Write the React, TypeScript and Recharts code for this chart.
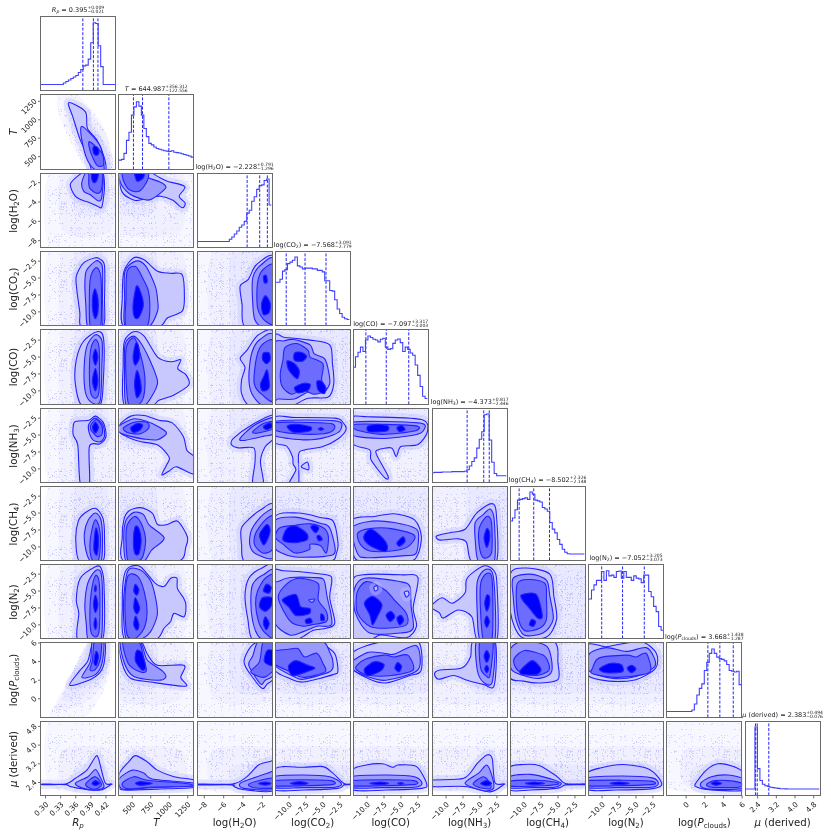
// Corner plot of a retrieval posterior: ten 1D histograms and 45 2D contour panels.
// Each 2D panel is a small ScatterChart whose closed contours go through the library's scales.

import { ComposedChart, Line, ReferenceLine, Scatter, ScatterChart, XAxis, YAxis } from "recharts";

const PANEL_X = [40.7, 119, 197.3, 275.4, 353.4, 432.3, 510.3, 588.7, 667, 745.3];
const PANEL_Y = [16.3, 95, 173.3, 251.4, 330, 408.3, 486.3, 564.3, 643, 721.3];
const PANEL_W = 74.6;
const PANEL_H = 74.4;
const PAD = 7; // room around a plot so that edge tick labels are not cut

const DOMAINS = [[0.291, 0.439], [327, 1336], [-8.7, -1], [-12, -1], [-12, -1], [-12, -1], [-12, -1], [-12, -1], [-2, 6], [1.86, 5.05]];
const Y_DOMAINS = [[0.291, 0.439], [327, 1336], [-8.7, -1], [-12, -1], [-12, -1], [-12, -1], [-12, -1], [-12, -1], [-2, 6], [1.85, 5.03]];

const RP_TICKS = [0.3, 0.33, 0.36, 0.39, 0.42];
const T_TICKS = [500, 750, 1000, 1250];
const H_TICKS = [-8, -6, -4, -2];
const LOG_TICKS = [-10, -7.5, -5, -2.5];
const P_TICKS = [0, 2, 4, 6];
const MU_TICKS = [2.4, 3.2, 4.0, 4.8];
const TICKS = [RP_TICKS, T_TICKS, H_TICKS, LOG_TICKS, LOG_TICKS, LOG_TICKS, LOG_TICKS, LOG_TICKS, P_TICKS, MU_TICKS];
const DECIMALS = [2, 0, 0, 1, 1, 1, 1, 1, 0, 1];

const MEDIANS = [0.395, 644.987, -2.228, -7.568, -7.097, -4.373, -8.502, -7.052, 3.668, 2.383];
const PLUS = [0.009, 356.312, 0.791, 3.091, 3.317, 0.817, 2.326, 3.205, 1.438, 0.494];
const MINUS = [0.021, 122.556, 1.296, 2.779, 3.003, 2.446, 2.148, 3.073, 1.287, 0.076];

const Sub = ({ children }: { children: any }) => (
  <span style={{ fontSize: "0.7em", position: "relative", top: "0.22em" }}>{children}</span>
);
const NAMES = [
  <><i>R</i><Sub><i>p</i></Sub></>,
  <i>T</i>,
  <>log(H<Sub>2</Sub>O)</>,
  <>log(CO<Sub>2</Sub>)</>,
  <>log(CO)</>,
  <>log(NH<Sub>3</Sub>)</>,
  <>log(CH<Sub>4</Sub>)</>,
  <>log(N<Sub>2</Sub>)</>,
  <>log(<i>P</i><Sub>clouds</Sub>)</>,
  <><i>μ</i> (derived)</>,
];

const HIST_RP = [.08, .08, .08, .08, .08, .08, .08, .08, .08, .1, .12, .14, .16, .18, .2, .24, .28, .33, .34, .42, .64, .91, .9, .6, .32, .08, .08, .08, .08, .08];
const HIST_T = [.125, .135, .215, .39, .5, .73, .84, .91, .85, .73, .55, .44, .35, .33, .3, .28, .27, .26, .25, .245, .24, .25, .23, .225, .22, .21, .2, .19, .18, .165];
const HIST_H = [.08, .08, .08, .08, .08, .08, .08, .08, .08, .08, .08, .08, .08, .11, .14, .18, .22, .27, .3, .35, .46, .5, .62, .68, .78, .83, .84, .9, .92, .57];
const HIST_CO2 = [.58, .58, .62, .73, .75, .83, .85, .875, .92, .8, .785, .76, .77, .77, .77, .76, .76, .74, .74, .72, .6, .6, .47, .46, .345, .22, .16, .11, .09, .08];
const HIST_CO = [.5, .64, .7, .77, .71, .865, .92, .9, .875, .865, .84, .875, .89, .77, .74, .75, .82, .865, .88, .83, .71, .77, .74, .69, .66, .53, .39, .24, .11, .08];
const HIST_NH3 = [.13, .135, .135, .135, .14, .14, .14, .14, .145, .145, .145, .145, .145, .15, .17, .22, .28, .33, .46, .58, .68, .91, .92, .57, .27, .12, .09, .09, .09, .09];
const HIST_CH4 = [.53, .57, .68, .81, .82, .83, .84, .82, .92, .89, .81, .8, .785, .71, .69, .66, .51, .42, .37, .28, .215, .15, .11, .09, .085, .085, .085, .085, .085, .085];
const HIST_N2 = [.53, .65, .72, .78, .78, .9, .78, .91, .84, .85, .82, .9, .905, .81, .9, .82, .82, .78, .84, .81, .8, .75, .85, .85, .63, .56, .43, .36, .16, .11];
const HIST_P = [.08, .08, .08, .08, .08, .08, .08, .08, .08, .08, .1, .18, .3, .39, .45, .63, .74, .86, .92, .86, .81, .79, .78, .76, .71, .63, .62, .61, .62, .44];
const HIST_MU = [.085, .085, .085, .085, .92, .36, .2, .15, .13, .12, .11, .105, .1, .095, .09, .09, .088, .086, .085, .085, .085, .085, .085, .085, .085, .085, .085, .085, .085, .085];
const HISTS = [HIST_RP, HIST_T, HIST_H, HIST_CO2, HIST_CO, HIST_NH3, HIST_CH4, HIST_N2, HIST_P, HIST_MU];

// scatter cloud extents per parameter, three tiers that add up towards the core
const SPARSE = [[.31, .432], [300, 1360], [-9, -.7], [-12.5, -.5], [-12.5, -.5], [-12.5, -.5], [-12.5, -.5], [-12.5, -.5], [-2.5, 6.5], [2.25, 5.1]];
const MID = [[.335, .428], [300, 1150], [-7, -.7], [-12.5, -.5], [-12.5, -.5], [-12.5, -.5], [-12.5, -.5], [-12.5, -.5], [0, 6.5], [2.25, 3.8]];
const DENSE = [[.36, .42], [300, 800], [-5, -.7], [-12.5, -.5], [-12.5, -.5], [-6.5, -.5], [-12.5, -.5], [-12.5, -.5], [1, 6.5], [2.25, 3.1]];

// contour rows: [level, x, y, x, y, ...]; level 0-3 are filled bands, -1/-2/-3 are scatter haze
const T_RP = [
  [-1, .325, 1360, .36, 1360, .415, 900, .435, 300, .385, 300, .33, 1000],
  [-2, .34, 1300, .37, 1250, .42, 800, .432, 300, .385, 300, .34, 1000],
  [-3, .355, 1150, .385, 1050, .425, 600, .428, 300, .385, 300],
  [0, .346, 1232, .379, 1110, .383, 884, .402, 725, .416, 500, .419, 320, .392, 320, .385, 500, .369, 725, .354, 1042],
  [1, .371, 906, .385, 838, .409, 635, .416, 320, .399, 320, .383, 454, .372, 725],
  [2, .387, 703, .412, 545, .415, 385, .402, 385, .389, 567],
  [3, .396, 640, .404, 620, .406, 550, .402, 520, .397, 530, .394, 590],
];
const H_RP = [
  [0, .349, -2.2, .365, -1.27, .383, -.8, .412, -.8, .417, -2.4, .412, -4.45, .405, -4.5, .389, -4.1, .372, -3.8, .359, -3.4],
  [1, .372, -2, .383, -.8, .412, -.8, .412, -3.4, .405, -3.9, .389, -3.25, .376, -2.9],
  [2, .386, -1.35, .388, -.8, .412, -.8, .411, -2.7, .402, -3.1, .387, -2.5],
  [3, .392, -.8, .405, -.8, .402, -1.75, .396, -2, .392, -1.7],
];
const H_T = [
  [0, 332, -.8, 332, -2.2, 385, -3.2, 544, -3.85, 700, -3.6, 882, -3.4, 1043, -3.8, 1175, -4.6, 1215, -4.1, 1134, -3.4, 1210, -2.4, 973, -1.85, 840, -1.35, 700, -.8],
  [1, 340, -.8, 340, -2, 453, -3.1, 610, -3.65, 750, -3.75, 952, -2.55, 882, -1.95, 720, -1.5, 630, -.8],
  [2, 385, -.8, 377, -1.7, 453, -2.7, 590, -2.9, 700, -1.85, 720, -1, 680, -.8],
  [3, 530, -.9, 565, -1.85, 650, -1.5, 660, -.9, 600, -.8],
];
const CO2_RP = [
  [0, .399, -2, .375, -2.8, .361, -4.7, .362, -6.7, .368, -10.1, .371, -12.2, .414, -12.2, .417, -8.2, .417, -3.2, .408, -2.2],
  [1, .399, -2.5, .381, -3.9, .378, -6, .38, -9, .384, -12.2, .412, -12.2, .413, -8, .413, -3.5, .407, -2.6],
  [2, .399, -3.5, .389, -5, .387, -8, .389, -12.2, .409, -12.2, .411, -8, .41, -5, .406, -3.8],
  [3, .398, -6.6, .393, -8, .394, -10, .399, -11, .404, -10, .404, -8],
];
const CO2_T = [
  [0, 387, -12.2, 365, -8, 387, -4, 519, -2, 660, -2.3, 842, -4, 1023, -4.3, 1175, -4.5, 1205, -7.7, 1175, -9.9, 973, -10.9, 860, -12.2],
  [1, 408, -12.2, 397, -8, 400, -4, 545, -2.5, 680, -3.2, 811, -6.2, 842, -8.2, 842, -9.9, 720, -12.2],
  [2, 420, -12.2, 415, -8, 430, -4, 545, -3.3, 640, -5, 720, -7, 735, -10, 690, -12.2],
  [3, 555, -6.2, 510, -9, 530, -10.8, 590, -10.8, 650, -9, 610, -7],
];
const CO2_H = [
  [0, -.7, -2.1, -2.6, -3, -3.45, -5.2, -4.3, -6.2, -4.1, -8.9, -3.8, -12.2, -.7, -12.2],
  [1, -.7, -2.5, -2.1, -3, -3, -5, -3, -8.7, -2.8, -11.1, -2.1, -12.2, -.7, -12.2],
  [2, -.7, -3.4, -1.9, -3.7, -2.5, -5.7, -2.5, -9.4, -1.75, -11.3, -.7, -11.3],
  [3, -2.1, -8.9, -1.7, -7.6, -1.2, -8.7, -1.3, -10.1, -1.9, -10.4],
  [3, -1.9, -4.8, -1.6, -4.6, -1.5, -5.6, -1.8, -5.7],
];
const CO_RP = [
  [0, .402, -1.25, .375, -2.7, .361, -5.4, .359, -8.9, .372, -12.2, .408, -12.2, .415, -8, .415, -2.2],
  [1, .399, -1.7, .383, -3.2, .377, -5.9, .378, -9.8, .389, -11.6, .408, -11.6, .412, -6, .412, -2.6],
  [2, .399, -2.4, .39, -3.7, .387, -7.4, .39, -10.4, .399, -11.1, .406, -10.2, .407, -6.5, .406, -3.4],
  [3, .399, -3.8, .394, -5, .399, -6.2, .404, -5],
  [3, .399, -6.7, .393, -8.5, .399, -10, .404, -8.5],
];
const CO_T = [
  [0, 395, -12.2, 377, -6, 395, -2.6, 519, -1.25, 660, -1.9, 842, -5, 1023, -5.7, 1155, -5.4, 1114, -6.7, 1225, -7.6, 1265, -9.1, 1064, -10.6, 860, -11.4, 760, -12.2],
  [1, 420, -12.2, 395, -7, 405, -3, 519, -1.9, 620, -3, 740, -5.5, 830, -8, 840, -9, 780, -10.5, 660, -12.2],
  [2, 450, -12, 415, -8, 420, -3.5, 530, -2.2, 620, -5, 670, -8, 650, -11, 560, -12.2],
  [3, 545, -3, 510, -5, 540, -6.2, 600, -5, 580, -3.2],
  [3, 560, -7, 530, -9, 560, -11, 620, -10, 600, -8],
];
const CO_H = [
  [0, -.7, -1.7, -2.4, -1.7, -3.6, -4, -4.3, -5.2, -3.8, -6.5, -4.15, -8.4, -4.15, -10.4, -3.3, -12.2, -.7, -12.2],
  [1, -.7, -2.1, -2.25, -2.4, -3.1, -4.4, -3.4, -7.9, -3.1, -10.4, -2, -12.2, -.7, -12.2],
  [2, -.7, -3, -1.9, -3, -2.6, -5, -2.85, -8.9, -2, -10.6, -.7, -11.2],
  [3, -1.9, -4.4, -1.3, -4.4, -1.2, -5.4, -1.6, -6, -2, -5.3],
  [3, -1.5, -6.9, -1.9, -8, -2.2, -9, -2, -10, -1.3, -9.5],
];
const CO_CO2 = [
  [0, -12.2, -2.3, -10.6, -2.1, -6.9, -2.5, -4, -3.2, -3.6, -6, -3.4, -8.9, -4.2, -10.9, -7.2, -11.1, -9.6, -12.2, -12.2, -12.2],
  [1, -12.2, -3.3, -10.7, -2.6, -9.3, -2.4, -6.9, -3.2, -6.3, -4.5, -4.8, -5.2, -4.3, -6.5, -4, -8.9, -5, -10.2, -7.2, -10.2, -9.2, -11.2, -11.6, -11.2, -12.2, -11],
  [2, -10.6, -3.6, -8.9, -3, -7.2, -4, -6.9, -5, -5, -6, -5.2, -8.4, -4.5, -9.9, -6.4, -10.5, -8, -9.8, -9.6, -10.5, -11, -9.4, -11.3, -7.5, -10.9, -5.4],
  [3, -9.2, -4.4, -8.2, -4.3, -7.4, -4.9, -8, -5.6, -9.2, -5.5],
  [3, -10.3, -5.6, -10, -7, -8.8, -8.2, -8.5, -7, -9.3, -5.9],
  [3, -9.2, -9.5, -8.7, -10.3, -7.2, -9.9, -6.9, -9, -8, -8.9],
  [3, -5.9, -8.6, -5.7, -9.9, -4.8, -10.4, -4.6, -9.5, -5.2, -8.6],
];
const NH3_RP = [
  [0, .355, -3.7, .359, -3, .386, -2.8, .399, -2.2, .415, -3.2, .42, -5.2, .408, -6.3, .387, -6.7, .387, -12.2, .369, -12.2, .364, -6.5, .355, -5],
  [1, .386, -3.4, .399, -2.5, .414, -3.5, .417, -5.2, .408, -6, .394, -5.7, .386, -4.5],
  [2, .39, -3.5, .401, -2.7, .412, -3.7, .412, -4.9, .402, -5.2, .39, -4.2],
  [3, .399, -3.1, .393, -3.9, .399, -4.7, .405, -3.9],
];
const NH3_T = [
  [0, 327, -3.5, 480, -2.2, 660, -2.1, 860, -2.8, 1040, -3.2, 1190, -5.2, 1240, -7.3, 1345, -8.3, 1345, -10.8, 1100, -9.7, 1000, -10.3, 900, -10.9, 960, -9.5, 1000, -8.3, 850, -6.5, 620, -6, 480, -5.5, 327, -4.6],
  [1, 327, -3.6, 521, -2.6, 700, -3, 842, -3.7, 963, -4.7, 842, -5.7, 660, -5.6, 479, -5.2, 327, -4.6],
  [2, 377, -4, 521, -3.1, 700, -3.1, 722, -4, 610, -4.8, 453, -4.7],
  [3, 480, -3.9, 570, -3.3, 640, -3.5, 600, -4.3, 510, -4.6],
];
const NH3_H = [
  [0, -.7, -2, -3.1, -3.5, -5, -5.5, -5.2, -6.4, -4.5, -6.9, -2.9, -6.9, -2.76, -8.9, -3, -12.2, -1.9, -12.2, -2.2, -8.9, -1.7, -6.7, -.7, -5.2],
  [1, -.7, -2.4, -2.8, -3.5, -4.3, -5.5, -3.9, -5.8, -1.95, -5.2, -.7, -4.7],
  [2, -.7, -3, -1.9, -3.3, -3, -4.5, -2.45, -4.7, -.7, -4],
  [3, -1.9, -3.7, -1.2, -3.2, -1, -3.8, -1.6, -4.2],
];
const NH3_CO2 = [
  [0, -12.2, -2.4, -9.1, -2.4, -3.2, -2.5, -2, -3.2, -1.6, -4.2, -2.7, -5.5, -5, -6.7, -7.7, -7.2, -8.6, -7.9, -8.6, -12.2, -10, -12.2, -9, -10.2, -9.4, -9.3, -9.5, -8.2, -10.4, -6.6, -12.2, -6],
  [0, -8.2, -9.7, -7.3, -9, -7.1, -10.1],
  [1, -12.2, -3, -3.2, -2.9, -2.3, -4, -3.5, -5, -6.7, -5.7, -10.1, -5.5, -12.2, -5],
  [2, -12.2, -3.2, -9, -3.1, -3.8, -3.3, -3.4, -4.2, -4.9, -4.8, -9, -4.8, -12.2, -4.2],
  [3, -10.3, -3.7, -9, -3.4, -6.8, -3.8, -7, -4.4, -9.3, -4.6],
  [3, -5.7, -4.1, -5.3, -3.9, -4.9, -4.1, -5.3, -4.3],
];
const NH3_CO = [
  [0, -12.2, -2.5, -9.9, -2.3, -2, -2.7, -1.1, -4.5, -2.5, -6.4, -5, -6.7, -5.7, -8.2, -6.4, -6.9, -8.4, -7.2, -8.6, -7.9, -6.9, -11.1, -7.4, -11.3, -9.4, -8.7, -9.6, -7.2, -12.2, -6.2],
  [1, -12.2, -3.1, -2.4, -3.2, -1.6, -4.2, -3, -5, -7.9, -5.5, -12.2, -5],
  [2, -11.6, -3.4, -3, -3.6, -3, -4.4, -7.9, -4.9, -11.6, -4.2],
  [3, -9.9, -3.7, -8.4, -3.4, -6.9, -3.7, -7.1, -4.4, -9.7, -4.5],
  [3, -5.6, -3.9, -4.9, -3.6, -4.4, -4.2, -5.2, -4.5],
];
const CH4_RP = [
  [0, .399, -4.3, .378, -5, .365, -6.2, .36, -9, .368, -12.2, .413, -12.2, .417, -9, .414, -5.8],
  [1, .399, -5, .385, -6, .377, -8, .38, -10.5, .39, -12.2, .41, -12.2, .413, -9, .41, -6],
  [2, .399, -6, .392, -7.5, .388, -10, .393, -12, .405, -12, .409, -9, .406, -7],
  [3, .4, -7.2, .397, -8.5, .396, -10.5, .402, -11.2, .405, -9.5, .404, -8],
];
const CH4_T = [
  [0, 400, -12.2, 365, -8.5, 386, -6, 453, -4.7, 610, -4.2, 770, -5, 842, -6.7, 973, -6.7, 1114, -6.2, 1245, -8.5, 1225, -10, 1114, -12.2],
  [1, 420, -12.2, 385, -9, 410, -6.2, 520, -4.9, 650, -5.2, 730, -6.8, 932, -8.7, 760, -10.5, 650, -12.2],
  [2, 440, -12, 415, -9, 430, -6.8, 530, -5.5, 620, -6.5, 680, -9, 640, -11.5, 560, -12.2],
  [3, 540, -7, 515, -9, 535, -11, 590, -11, 620, -9, 590, -7.3],
];
const CH4_H = [
  [0, -.7, -4, -2.25, -4.6, -3.6, -6.2, -4.2, -7.4, -4.15, -9.7, -3.8, -12.2, -.7, -12.2],
  [1, -.7, -4.8, -1.9, -5.2, -3.1, -7.4, -3.3, -9.7, -2.6, -11.1, -.7, -11.4],
  [2, -.7, -5.5, -1.7, -6, -2.7, -8, -2.8, -9.7, -2, -10.9, -1.1, -10.6, -.7, -9.2],
  [3, -1.55, -6.7, -2.3, -8.2, -1.9, -9.7, -1.5, -9, -1.2, -7.5],
];
const CH4_CO2 = [
  [0, -12.2, -5.7, -8.6, -5, -5.2, -5.7, -3.5, -6.2, -2.8, -9.2, -3, -10.9, -4.2, -12.2, -12.2, -12.2],
  [1, -12.2, -6.2, -9.1, -5.6, -5.4, -6.5, -4, -7.2, -3.2, -10.7, -4.7, -11.4, -9.1, -11.5, -11.1, -10.9, -12.2, -9.9],
  [2, -11.4, -7.2, -9.1, -6.8, -6.9, -6.6, -4.9, -7.2, -4.2, -8.5, -4.5, -10.9, -5.4, -9.8, -6.9, -9.6, -7, -10.4, -9.1, -10.9, -10.9, -9.6, -12, -8.6],
  [3, -10.4, -7.4, -9.1, -6.9, -7.4, -8, -7.4, -9, -9.4, -9.4, -10.9, -9],
  [3, -6.8, -7.1, -6.3, -6.8, -5.6, -7.2, -6.1, -7.9],
  [3, -5.9, -8.5, -5.5, -8.3, -5.1, -8.9, -5.6, -9.1],
];
const CH4_CO = [
  [0, -12.2, -6, -8.9, -5.5, -6, -5.1, -3, -6, -2, -8.4, -2.5, -11.1, -4, -12.2, -11, -12.2, -12.2, -10],
  [1, -12.2, -7.2, -9.4, -6.2, -6, -6.4, -2.8, -7.3, -2.4, -8.7, -2.8, -11, -4.4, -11.3, -10, -11.6, -11.4, -11],
  [2, -11.4, -8, -9.6, -7.3, -6.4, -7.3, -3, -8.3, -4, -10, -6.4, -10.6, -9.6, -10.6, -11, -9.6],
  [3, -10.4, -8.2, -9.4, -7.4, -7.7, -8.7, -7, -9.9, -7.4, -10.7, -9.4, -9.9, -10.4, -9],
  [3, -5.6, -9.4, -4.7, -8.5, -4.4, -9.2, -5.2, -9.9],
];
const CH4_NH3 = [
  [0, -11.4, -8.4, -9.4, -7.9, -7.2, -7.4, -5.5, -5, -3.3, -3.6, -2.6, -5, -2.6, -12.2, -6.2, -12.2, -7, -9.3, -8.4, -8.8, -10.9, -9],
  [1, -5.7, -6.4, -4.5, -5.2, -3.5, -4.4, -2.9, -6, -2.9, -12.2, -5.2, -12.2, -5.7, -9],
  [2, -5.1, -7.2, -4, -5.5, -3.3, -6.4, -3.3, -10.9, -4.5, -11.6, -5.1, -9.9],
  [3, -4, -7.3, -4.4, -8.7, -4, -10.1, -3.6, -9, -3.6, -7.8],
];
const N2_RP = [
  [0, .399, -1.4, .369, -3.1, .361, -6.3, .366, -8.3, .364, -12.2, .413, -12.2, .416, -4, .41, -1.6],
  [1, .399, -2, .384, -3.8, .378, -7, .381, -10, .385, -12.2, .41, -12.2, .413, -6, .41, -2.3],
  [2, .399, -2.7, .391, -5, .388, -8, .39, -11, .399, -11.8, .406, -11, .408, -7, .406, -3.5],
  [3, .399, -4.1, .397, -4.8, .399, -5.1, .401, -4.6],
  [3, .399, -5.6, .395, -7, .399, -8.2, .404, -7],
  [3, .399, -8.9, .396, -9.9, .399, -10.7, .402, -9.9],
];
const N2_T = [
  [0, 400, -12.2, 365, -7, 386, -2.9, 453, -1.5, 610, -1.4, 815, -3.9, 932, -4.3, 1019, -3.1, 1104, -3.1, 1110, -4.6, 1192, -6, 1225, -7, 1200, -8.8, 1064, -8.3, 1019, -9.5, 930, -10.5, 815, -12.2],
  [1, 420, -12.2, 380, -7, 440, -2, 610, -1.9, 748, -3.5, 815, -6, 838, -8.5, 748, -11, 600, -12.2],
  [2, 430, -11.5, 400, -7, 440, -2.8, 570, -2.8, 660, -5, 700, -8, 660, -10.5, 540, -12],
  [3, 540, -4, 520, -5, 560, -5.6, 590, -4.8],
  [3, 540, -6, 520, -7.5, 560, -8.4, 600, -7.5],
  [3, 545, -8.7, 520, -10, 565, -10.8, 590, -10],
];
const N2_H = [
  [0, -.7, -1.7, -2.2, -1.7, -3.4, -3.1, -3.8, -5.8, -3.5, -9.2, -3, -12.2, -.7, -12.2],
  [1, -.7, -2.4, -1.9, -2.6, -3, -4, -3.2, -6.5, -3, -9.5, -2.5, -11.5, -1.9, -12.2, -.7, -12.2],
  [2, -.7, -3.1, -1.7, -3.1, -2.5, -5, -2.7, -7, -2.4, -9.5, -1.7, -11.2, -.7, -11.5],
  [3, -1.6, -4, -1.9, -5, -1.3, -5.3, -1.1, -4.4],
  [3, -2, -6, -2.3, -7.3, -1.7, -8, -1.1, -7.2, -1, -6],
  [3, -1.7, -8.8, -1.9, -9.8, -1.6, -10.7, -1.3, -9.8],
];
const N2_CO2 = [
  [0, -12.2, -2.6, -10.8, -2, -4.5, -2.6, -3.7, -3.4, -4, -6, -3.25, -9.7, -4.5, -10.5, -6.4, -10.8, -7.9, -11.7, -9, -12.2, -12.2, -12.2],
  [1, -12.2, -4.3, -11.4, -3.5, -9.8, -3, -6.4, -3, -4.9, -3.3, -4.4, -5.8, -3.7, -9.9, -5.9, -10.2, -7.9, -11, -9.9, -11.5, -12.2, -9.5],
  [2, -10.3, -3.9, -8.4, -3.1, -5.7, -3.9, -5.7, -6.3, -4.5, -8, -4.5, -9.5, -6.7, -10, -7.9, -10.2, -9.8, -9.5, -11.6, -6],
  [1, -7.1, -6.3, -6.2, -6.2, -6.6, -6.7],
  [3, -11, -6.3, -9, -5.5, -8.3, -7.3, -6.9, -7.6, -7.1, -8.4, -9, -8.6, -10, -7.4],
  [3, -7.6, -9.3, -6.9, -9, -6.6, -9.6, -7.4, -9.8],
  [3, -5.3, -8.4, -4.9, -8.6, -4.8, -9.3, -5.3, -9.3],
];
const N2_CO = [
  [0, -12.2, -3.9, -10.6, -2.6, -5, -2.6, -2.5, -3, -3.2, -7.5, -2.7, -10.2, -4.2, -11.9, -8, -11.5, -9.5, -12.2, -12.2, -12.2],
  [1, -11.9, -4.8, -10.4, -3.1, -5.2, -3.6, -3.7, -4.3, -3.5, -7.3, -3.2, -10.5, -5, -11.2, -9.6, -11.2, -11.7, -8.3],
  [2, -11.5, -5.3, -10.1, -3.6, -7.4, -4.8, -6, -6.3, -4.2, -8.3, -4.2, -10, -7.2, -10.5, -9.6, -10.2, -11.4, -8.3],
  [0, -9, -4.5, -8.6, -4.2, -8.4, -4.7, -8.8, -5],
  [0, -4.5, -5.2, -4, -5, -3.8, -5.5, -4.2, -5.9],
  [3, -10.4, -6.8, -9.2, -5.8, -7.8, -7, -8.5, -8.8, -9.2, -10, -9.6, -8.5],
  [3, -7.2, -8.6, -6.5, -8, -5.9, -8.8, -6.6, -9.5],
  [3, -5.6, -9, -5, -8.6, -4.6, -9.3, -5.2, -10],
];
const N2_NH3 = [
  [0, -12.2, -7.3, -10.6, -6, -9.1, -6.8, -7.2, -5.3, -6.9, -3.1, -4.5, -1.3, -3, -1.9, -2.5, -3.9, -2.5, -12.2, -5.4, -12.2, -6.2, -8.8, -8.2, -7.8, -10.4, -9, -11, -8.2],
  [1, -5.4, -3.6, -4.2, -1.8, -3, -3, -2.8, -12.2, -5, -12.2, -5.4, -8.3],
  [2, -4.9, -3.9, -4, -2.4, -3.2, -3.4, -3.2, -11.9, -4.5, -12.2, -4.9, -8.3],
  [3, -4, -5.6, -4.3, -6.8, -4, -8, -3.6, -7, -3.6, -5.8],
  [3, -4, -8.7, -4.3, -9.5, -4, -10.4, -3.6, -9.5],
];
const N2_CH4 = [
  [0, -12, -2.4, -9.6, -1.6, -6.2, -2.5, -5.6, -5.8, -5.2, -9.2, -6.7, -11.8, -10.4, -11.8, -12, -8.2],
  [1, -11.6, -3.1, -9.1, -2.5, -6.7, -3.4, -6.2, -5.8, -5.7, -9.2, -7.2, -11.2, -10, -11.5, -11.2, -9.2, -11.6, -5.8],
  [2, -11, -3.9, -9.1, -3.3, -6.9, -3.9, -6.7, -6.2, -6.7, -9.2, -7.7, -10.5, -10, -10.8, -11, -8.2],
  [3, -10.4, -5.6, -8.2, -5.5, -7.3, -8.7, -8, -9, -9.4, -7.3, -10.1, -6.5],
  [3, -8.9, -9.2, -8.3, -9.5, -8.6, -10.2, -9.2, -10],
];
const P_RP = [
  [-1, .305, -2.5, .37, -2.5, .42, 1.5, .432, 6.5, .39, 6.5, .345, 2],
  [-2, .32, -1.2, .375, -.5, .42, 2, .428, 6.5, .39, 6.5, .35, 2.2],
  [-3, .335, -.2, .38, .5, .42, 2.5, .425, 6.5, .39, 6.5, .35, 2.5],
  [0, .395, 6.2, .384, 4.1, .366, 2.9, .348, 1.45, .386, 2, .409, 2.9, .417, 4.1, .417, 6.2],
  [1, .393, 6.2, .389, 4, .372, 2.3, .399, 2.6, .412, 3.8, .415, 6.2],
  [2, .397, 6.2, .393, 4.1, .388, 3.1, .398, 3.1, .408, 4.1, .411, 6.2],
  [3, .4, 5.1, .396, 3.9, .401, 3.6, .405, 4.6],
];
const P_T = [
  [0, 335, 6.2, 363, 3.8, 476, 2.2, 748, 1.8, 1223, 1.35, 1155, 2.3, 1200, 3.6, 838, 3.6, 700, 4.85, 610, 6.2],
  [1, 345, 6.2, 395, 3.8, 521, 2.4, 838, 2, 952, 2.3, 906, 3, 700, 4.2, 600, 6.2],
  [2, 375, 6.2, 445, 3.8, 600, 2.9, 690, 3, 650, 4.5, 585, 6.2],
  [3, 560, 5.2, 540, 4.1, 630, 3.1, 680, 3.4, 630, 4.9],
];
const P_H = [
  [0, -.7, 6.2, -2.9, 5.9, -3.9, 3.95, -2.9, 2.15, -2, 1.1, -1.5, 1.6, -.7, 2.5],
  [1, -2.4, 6.2, -3, 4.6, -3.4, 3.6, -2.2, 1.6, -1.7, 2, -.7, 2.8, -.7, 6.2],
  [2, -1.9, 6.2, -2.3, 4, -3.2, 2.9, -1.9, 2.3, -1, 2.9, -.7, 3.3, -.7, 6.2],
  [3, -1.5, 5.2, -1.8, 4, -.9, 3.6, -.7, 5],
];
const P_CO2 = [
  [0, -12.2, 3.2, -9.8, 2.15, -7.9, 1.8, -3.5, 2.6, -2.8, 3, -3.25, 4.85, -5, 5.9, -5, 6.2, -12.2, 6.2],
  [1, -12.2, 3.7, -9.3, 2.4, -7.9, 2.1, -4, 2.9, -3.5, 3.8, -4, 5, -5.4, 6.2, -12.2, 6.2],
  [2, -12.2, 5.1, -10.3, 5.3, -8.7, 5.4, -7.7, 4.5, -5.9, 4.9, -5, 3.8, -4.7, 2.9, -7.9, 2.3, -9.8, 2.9, -12.2, 3.8],
  [3, -10.1, 3.5, -9, 4.1, -7.2, 3.6, -6.2, 3.3, -7.4, 2.9, -9.5, 2.5],
];
const P_CO = [
  [0, -12.2, 4.9, -10.1, 5.7, -7, 6.2, -2.5, 6.2, -2, 3.1, -3.7, 2.5, -7.2, 1.7, -9.6, 2.1, -12.2, 3.3],
  [1, -12.2, 4, -9.8, 5, -7.5, 4.9, -6, 4.8, -2.7, 5.7, -2.5, 3.1, -7.2, 2, -10, 2.4, -12.2, 3.2],
  [2, -11.5, 3.6, -10.1, 4.3, -7.5, 4.7, -6, 4.5, -4, 4.7, -3.2, 3.1, -6.4, 2.5, -9.6, 2.5, -11.5, 3.1],
  [3, -10.4, 3.2, -8.9, 4, -7.5, 3.7, -8, 3, -9.9, 2.5],
  [3, -5.5, 3.9, -4.9, 3.5, -5.3, 2.9, -5.9, 3.3],
];
const P_NH3 = [
  [0, -11.7, 2.7, -10.9, 3.1, -7.7, 3.3, -6.4, 4.5, -6, 6.2, -2.8, 6.2, -2.9, 1.45, -4.5, 1.55, -6.9, 2, -8.9, 2.5, -11.1, 2.1],
  [1, -5.5, 6.2, -5.4, 3.1, -4.5, 1.8, -3.2, 1.8, -2.9, 6.2],
  [2, -5, 6.2, -4.9, 3.3, -4, 2.4, -3.5, 2.6, -3.1, 6.2],
  [3, -4, 5.2, -4.4, 4.6, -4, 3.9, -3.6, 4.6],
  [3, -4, 3.6, -4.3, 3.2, -4, 2.8, -3.7, 3.2],
];
const P_CH4 = [
  [0, -12.2, 6.2, -5.7, 6.2, -5, 3.85, -5, 2.05, -7.7, 1.7, -10.1, 1.9, -12.2, 2.4],
  [1, -12, 5.4, -10, 6.2, -6.6, 5.6, -5.9, 3, -7.7, 2.2, -10.1, 2.5, -11.9, 3.2],
  [2, -11.4, 4.4, -9.9, 5.2, -7.2, 4.7, -6.4, 3.85, -6.4, 3, -8.2, 2.5, -10.6, 2.9, -11.4, 3.6],
  [3, -10.6, 3, -8.8, 4.1, -7.5, 3.2, -8.2, 2.6, -10.1, 2.6],
];
const P_N2 = [
  [0, -12.2, 5.8, -9.4, 5.6, -7.2, 5.9, -4, 6.1, -2, 4.9, -2.1, 3.3, -5, 2.05, -8.9, 1.9, -12.2, 2.6],
  [1, -11.9, 4.8, -9.4, 5.5, -6.4, 5.1, -3.5, 5.5, -2.3, 4.4, -2.3, 3.4, -5, 2.4, -8.4, 2.2, -11.9, 3],
  [2, -11.4, 3.3, -10.4, 4.4, -6.4, 4.7, -5, 4.5, -3.5, 4.9, -2.8, 3.1, -4, 2.6, -7.9, 2.3, -11.4, 2.7],
  [3, -10.4, 3.2, -8.9, 3.8, -7.2, 3.7, -7, 2.9, -9.4, 2.8],
  [3, -6.3, 3.3, -5.6, 3.6, -5, 3.2, -5.7, 2.8],
];
const MU_RP = [
  [0, .295, 2.34, .34, 2.34, .359, 2.58, .382, 2.93, .399, 3.5, .405, 3.43, .418, 2.4, .43, 2.34, .43, 2.31, .409, 2.08, .375, 2.12, .349, 2.23, .34, 2.31, .295, 2.31],
  [1, .359, 2.36, .384, 2.65, .399, 2.96, .408, 2.65, .416, 2.22, .399, 2.08, .375, 2.15],
  [2, .38, 2.36, .399, 2.65, .411, 2.3, .399, 2.12, .384, 2.2],
  [3, .392, 2.36, .399, 2.48, .407, 2.36, .399, 2.28],
];
const MU_T = [
  [0, 327, 2.8, 453, 3.29, 544, 3.55, 700, 3.29, 838, 2.93, 1064, 2.65, 1345, 2.5, 1345, 2.2, 838, 2.12, 386, 2.08, 327, 2.23],
  [1, 327, 2.58, 500, 2.93, 660, 2.8, 770, 2.55, 1270, 2.4, 1345, 2.36, 1345, 2.25, 838, 2.2, 408, 2.1, 327, 2.25],
  [2, 363, 2.36, 521, 2.65, 700, 2.5, 1250, 2.35, 1270, 2.24, 750, 2.2, 435, 2.13],
  [3, 544, 2.36, 610, 2.44, 770, 2.36, 610, 2.28],
];
const MU_H = [
  [0, -9, 2.34, -5.1, 2.34, -3.6, 2.65, -2.4, 3.15, -1.2, 3.3, -.7, 3.3, -.7, 2.08, -4, 2.1, -5, 2.25, -5.1, 2.3, -9, 2.3],
  [1, -4.3, 2.36, -3, 2.58, -1.5, 2.8, -.7, 2.85, -.7, 2.12, -3.9, 2.15],
  [2, -3.4, 2.33, -1.9, 2.53, -.7, 2.58, -.7, 2.18, -2.9, 2.18],
  [3, -2.4, 2.36, -1.7, 2.42, -1.1, 2.36, -1.7, 2.29],
];
const MU_CO2 = [
  [0, -12.2, 2.93, -10.8, 3.08, -7.9, 3.05, -5, 3.08, -3.5, 2.79, -1.9, 2.36, -.8, 2.34, -.8, 2.31, -1.9, 2.3, -2.8, 2.15, -7.9, 2.08, -12.2, 2.1],
  [1, -12.2, 2.65, -7.9, 2.72, -4, 2.65, -2.3, 2.36, -3.2, 2.2, -7.9, 2.18, -12.2, 2.18],
  [2, -12.2, 2.48, -7.9, 2.52, -3.8, 2.48, -3.5, 2.32, -7.9, 2.26, -12.2, 2.26],
  [3, -9.8, 2.36, -8.4, 2.44, -7.2, 2.36, -8.4, 2.3],
];
const MU_CO = [
  [0, -12.2, 2.93, -10.1, 3.15, -7.7, 3.2, -6.2, 3.05, -5.4, 3.15, -2.7, 3.08, -1.2, 2.33, -2, 2.15, -7.2, 2.08, -12.2, 2.1],
  [1, -12.2, 2.65, -7, 2.72, -3, 2.65, -1.9, 2.36, -3, 2.2, -7.9, 2.18, -12.2, 2.18],
  [2, -12.2, 2.48, -7, 2.52, -3.1, 2.48, -2.9, 2.32, -7.9, 2.26, -12.2, 2.26],
  [3, -9.6, 2.36, -8, 2.42, -6.8, 2.36, -8, 2.3],
  [3, -5.5, 2.36, -5, 2.4, -4.6, 2.36, -5, 2.32],
];
const MU_NH3 = [
  [0, -12.2, 2.5, -7.4, 2.58, -5.4, 3.22, -4, 3.58, -3.2, 3.43, -2.8, 2.4, -1.5, 2.34, -1.5, 2.31, -3.5, 2, -7.2, 2.23, -12.2, 2.23],
  [1, -7.2, 2.36, -5.2, 2.8, -4, 3.15, -3.2, 2.65, -3, 2.15, -4.5, 2.05],
  [2, -6, 2.36, -4.5, 2.65, -3.5, 2.36, -3.5, 2.13, -5.2, 2.2],
  [3, -4.9, 2.36, -4, 2.48, -3.3, 2.36, -4, 2.26],
];
const MU_CH4 = [
  [0, -12.2, 3.03, -10.1, 3.17, -7.7, 3.12, -5.2, 2.67, -3.9, 2.36, -1, 2.34, -1, 2.31, -3.9, 2.3, -5, 2.16, -9.1, 2.08, -12.2, 2.1],
  [1, -12.2, 2.65, -9, 2.75, -6, 2.55, -4.5, 2.36, -5.5, 2.2, -9, 2.18, -12.2, 2.18],
  [2, -12.2, 2.46, -8, 2.5, -5.5, 2.42, -5, 2.33, -8, 2.25, -12.2, 2.25],
  [3, -9.8, 2.36, -8.5, 2.42, -7, 2.36, -8.5, 2.3],
];
const MU_N2 = [
  [0, -12.2, 2.8, -10.1, 3.03, -6.9, 3.17, -3, 2.96, -1.2, 2.36, -2.5, 2.14, -7.9, 2.08, -12.2, 2.1],
  [1, -12.2, 2.6, -7, 2.68, -2.6, 2.6, -1.7, 2.36, -2.7, 2.2, -7.9, 2.18, -12.2, 2.18],
  [2, -12.2, 2.48, -7, 2.5, -2.8, 2.46, -2.5, 2.32, -7.9, 2.26, -12.2, 2.26],
  [3, -8.8, 2.36, -7.5, 2.42, -6, 2.36, -7.5, 2.3],
];
const MU_P = [
  [0, .97, 2.33, 2.16, 2.93, 3.4, 3.2, 5, 3.1, 6.2, 2.79, 6.2, 2.08, 2.2, 2.1, 1.2, 2.2],
  [1, 1.55, 2.36, 2.7, 2.65, 4.5, 2.72, 6.2, 2.55, 6.2, 2.15, 2.2, 2.13],
  [2, 2.2, 2.33, 3.05, 2.48, 4.5, 2.48, 6, 2.36, 5.6, 2.2, 2.7, 2.2],
  [3, 2.7, 2.36, 3.2, 2.44, 3.8, 2.36, 3.2, 2.28],
];

const CONTOURS = [
  [],
  [T_RP],
  [H_RP, H_T],
  [CO2_RP, CO2_T, CO2_H],
  [CO_RP, CO_T, CO_H, CO_CO2],
  [NH3_RP, NH3_T, NH3_H, NH3_CO2, NH3_CO],
  [CH4_RP, CH4_T, CH4_H, CH4_CO2, CH4_CO, CH4_NH3],
  [N2_RP, N2_T, N2_H, N2_CO2, N2_CO, N2_NH3, N2_CH4],
  [P_RP, P_T, P_H, P_CO2, P_CO, P_NH3, P_CH4, P_N2],
  [MU_RP, MU_T, MU_H, MU_CO2, MU_CO, MU_NH3, MU_CH4, MU_N2, MU_P],
];

const LEVEL_FILLS = ["#c8c8ff", "#9a9aff", "#6c6cff", "#0000ff"];
const LINE_BLUE = "#2222ff";
const FRAME = "#6a6a6a";
const FONT = "'DejaVu Sans', sans-serif";

// stipple texture for the scatter haze, one tile per tier
const HAZE_TILES = [
  { id: "hazeA", w: 53, h: 47, count: 120, a: 7, b: 13, c: 3, d: 29, wash: 0.1 },
  { id: "hazeB", w: 61, h: 43, count: 150, a: 5, b: 17, c: 11, d: 19, wash: 0.1 },
  { id: "hazeC", w: 47, h: 59, count: 150, a: 3, b: 23, c: 7, d: 31, wash: 0.12 },
];

const minus = (s: string) => s.replace("-", "−");

// closed Catmull-Rom path through the scaled contour vertices
function closedPath(points: { x: number; y: number }[]) {
  const n = points.length;
  let d = `M${points[0].x},${points[0].y}`;
  for (let i = 0; i < n; i++) {
    const p0 = points[(i + n - 1) % n];
    const p1 = points[i];
    const p2 = points[(i + 1) % n];
    const p3 = points[(i + 2) % n];
    d += `C${p1.x + (p2.x - p0.x) / 7},${p1.y + (p2.y - p0.y) / 7} ${p2.x - (p3.x - p1.x) / 7},${p2.y - (p3.y - p1.y) / 7} ${p2.x},${p2.y}`;
  }
  return d + "Z";
}

function rowPoints(row: number[]) {
  const pts = [];
  for (let i = 1; i < row.length; i += 2) pts.push({ x: row[i], y: row[i + 1] });
  return pts;
}

function hazeRows(row: number, col: number) {
  return [SPARSE, MID, DENSE].map((tier, i) => {
    const x = tier[col], y = tier[row];
    return [-1 - i, x[0], y[0], x[1], y[0], x[1], y[1], x[0], y[1]];
  });
}

function contourPath(lp: any, level: number) {
  const d = closedPath(lp.points);
  if (level < 0) return <path d={d} fill={`url(#${HAZE_TILES[-1 - level].id})`} stroke="none" />;
  return (
    <g>
      {level === 0 && <path d={d} fill="none" stroke="#c4c4ff" strokeOpacity={0.4} strokeWidth={9} strokeLinejoin="round" />}
      <path d={d} fill={LEVEL_FILLS[level]} stroke={LINE_BLUE} strokeWidth={1.1} strokeLinejoin="round" />
    </g>
  );
}

const xTick = (col: number) => (p: any) => (
  <text x={p.x + 2} y={p.y + 3} transform={`rotate(-45 ${p.x + 2} ${p.y + 3})`} textAnchor="end" fontSize={7.4} fontFamily={FONT} fill="#222" dominantBaseline="middle">
    {minus(p.payload.value.toFixed(DECIMALS[col]))}
  </text>
);

const yTick = (row: number) => (p: any) => (
  <text x={p.x} y={p.y - 1} transform={`rotate(-45 ${p.x} ${p.y - 1})`} textAnchor="end" fontSize={7.4} fontFamily={FONT} fill="#222" dominantBaseline="middle">
    {minus(p.payload.value.toFixed(DECIMALS[row]))}
  </text>
);

function Pair({ row, col }: { row: number; col: number }) {
  const left = col === 0 ? 40 : 3.5;
  const bottom = row === 9 ? 38 : 3.5;
  const rows = CONTOURS[row][col];
  const all = rows[0][0] < 0 ? rows : [...hazeRows(row, col), ...rows];
  return (
    <div style={{ position: "absolute", left: PANEL_X[col] - left, top: PANEL_Y[row] - PAD }}>
      <ScatterChart width={PANEL_W + left + PAD} height={PANEL_H + bottom + PAD} margin={{ top: PAD, right: PAD, bottom: 0, left: 0 }}>
        <XAxis type="number" dataKey="x" domain={DOMAINS[col]} allowDataOverflow ticks={TICKS[col]} interval={0} height={bottom} tickSize={3} axisLine={false} tickLine={{ stroke: FRAME }} tick={row === 9 ? xTick(col) : false} />
        <YAxis type="number" dataKey="y" domain={Y_DOMAINS[row]} allowDataOverflow ticks={TICKS[row]} interval={0} width={left} tickSize={3} axisLine={false} tickLine={{ stroke: FRAME }} tick={col === 0 ? yTick(row) : false} />
        {all.map((r, i) => (
          <Scatter
            key={i}
            data={rowPoints(r)}
            isAnimationActive={false}
            shape={() => <g />}
            line={(lp: any) => contourPath(lp, r[0])}
          />
        ))}
      </ScatterChart>
    </div>
  );
}

function Hist({ index }: { index: number }) {
  const values = HISTS[index];
  const [lo, hi] = DOMAINS[index];
  const step = (hi - lo) / values.length;
  const data = values.map((y, i) => ({ x: lo + i * step, y }));
  data.push({ x: hi, y: values[values.length - 1] });
  const lines = [MEDIANS[index] - MINUS[index], MEDIANS[index], MEDIANS[index] + PLUS[index]];
  const bottom = index === 9 ? 38 : 3.5;
  return (
    <div style={{ position: "absolute", left: PANEL_X[index], top: PANEL_Y[index] }}>
      <ComposedChart width={PANEL_W + PAD} height={PANEL_H + bottom} data={data} margin={{ top: 0, right: PAD, bottom: 0, left: 0 }}>
        <XAxis type="number" dataKey="x" domain={[lo, hi]} allowDataOverflow ticks={TICKS[index]} interval={0} height={bottom} tickSize={3} axisLine={false} tickLine={{ stroke: FRAME }} tick={index === 9 ? xTick(index) : false} />
        <YAxis hide domain={[0, 1]} />
        {lines.map((v, i) => (
          <ReferenceLine key={i} x={v} stroke="#2222ff" strokeWidth={1} strokeDasharray="3 1.6" />
        ))}
        <Line type="stepAfter" dataKey="y" stroke="#4040ff" strokeWidth={1.1} dot={false} isAnimationActive={false} />
      </ComposedChart>
    </div>
  );
}

function Title({ index }: { index: number }) {
  return (
    <div style={{ position: "absolute", left: PANEL_X[index] + PANEL_W / 2, top: PANEL_Y[index] - 10.5, height: 9, transform: "translateX(-50%)", display: "flex", alignItems: "center", whiteSpace: "nowrap", fontFamily: FONT, fontSize: 6.5, color: "#222" }}>
      <span>{NAMES[index]} = {minus(MEDIANS[index].toFixed(3))}</span>
      <span style={{ display: "inline-flex", flexDirection: "column", fontSize: 4.5, lineHeight: "4.4px" }}>
        <span>+{PLUS[index].toFixed(3)}</span>
        <span>−{MINUS[index].toFixed(3)}</span>
      </span>
    </div>
  );
}

function AxisLabels() {
  const base = { position: "absolute" as const, fontFamily: FONT, fontSize: 10.2, color: "#222", whiteSpace: "nowrap" as const };
  return (
    <>
      {NAMES.map((name, i) => (
        <div key={i} style={{ ...base, left: PANEL_X[i] + PANEL_W / 2, top: 822, transform: "translate(-50%,-50%)" }}>{name}</div>
      ))}
      {NAMES.slice(1).map((name, i) => (
        <div key={i} style={{ ...base, left: 12.5, top: PANEL_Y[i + 1] + PANEL_H / 2, transform: "translate(-50%,-50%) rotate(-90deg)" }}>{name}</div>
      ))}
    </>
  );
}

export default function App() {
  const frames = [];
  for (let r = 0; r < 10; r++) {
    for (let c = 0; c <= r; c++) {
      frames.push(<div key={`${r}-${c}`} style={{ position: "absolute", left: PANEL_X[c] - 0.7, top: PANEL_Y[r] - 0.7, width: PANEL_W + 1.4, height: PANEL_H + 1.4, boxSizing: "border-box", border: `1.4px solid ${FRAME}` }} />);
    }
  }
  return (
    <div style={{ position: "absolute", left: 0, top: 0, width: 831, height: 837, background: "#fff", overflow: "hidden", filter: "blur(0.3px)" }}>
      <svg width={0} height={0} style={{ position: "absolute" }}>
        <defs>
          {HAZE_TILES.map((t) => (
            <pattern key={t.id} id={t.id} patternUnits="userSpaceOnUse" width={t.w} height={t.h}>
              <rect width={t.w} height={t.h} fill="#b8b8ff" opacity={t.wash} />
              {Array.from({ length: t.count }, (_, i) => (
                <rect key={i} x={(i * i * t.a + i * t.b) % t.w} y={(i * i * t.c + i * t.d) % t.h} width={1} height={1} fill="#8a8aff" opacity={0.32} />
              ))}
            </pattern>
          ))}
        </defs>
      </svg>
      {CONTOURS.map((cols, r) => cols.map((_, c) => <Pair key={`${r}-${c}`} row={r} col={c} />))}
      {HISTS.map((_, i) => <Hist key={i} index={i} />)}
      {frames}
      {HISTS.map((_, i) => <Title key={i} index={i} />)}
      <AxisLabels />
    </div>
  );
}
